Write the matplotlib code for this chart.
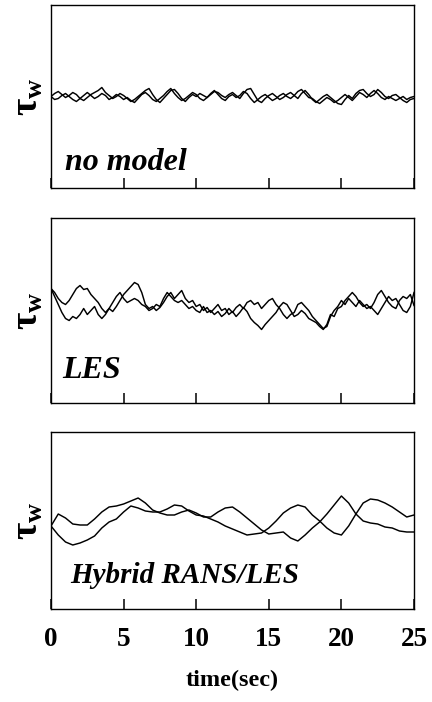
import numpy as np
import matplotlib
matplotlib.use("Agg")
import matplotlib.pyplot as plt

plt.rcParams['mathtext.fontset'] = 'custom'
plt.rcParams['mathtext.rm'] = 'Liberation Serif'
plt.rcParams['mathtext.bf'] = 'Liberation Serif:bold'
plt.rcParams['mathtext.it'] = 'Liberation Serif:italic'

# ---- data (tau_w, arbitrary units) ----
time_fine = np.arange(0, 25.001, 0.25)
time_coarse = np.arange(0, 25.001, 0.5)

nomodel_a = [0, 3, 5, 2, -1, 1, 4, 2, -2, -4,
             -1, 2, 4, 6, 9, 4, 1, -2, 0, 3,
             1, -2, -5, -3, 0, 3, 6, 8, 2, -3,
             -6, -2, 2, 6, 7, 3, -2, -5, -1, 2,
             0, 3, 1, -1, 2, 5, 4, 1, -1, 2,
             4, 1, -2, 3, 7, 8, 2, -4, -6, -2,
             1, 3, 0, -3, -1, 2, 4, 1, -2, 3,
             6, 2, -3, -6, -3, 0, 2, -1, -4, -7,
             -8, -3, 1, -2, 3, 6, 7, 3, 0, 2,
             7, 4, 0, -2, 1, 2, -1, -4, -6, -3,
             -2]
nomodel_b = [0, -3, -2, 1, 3, 0, -3, -5, -2, 1,
             4, 1, -2, 0, 3, 1, -3, -1, 2, 0,
             -3, -1, -4, -6, -2, 2, 4, 1, -3, -5,
             -2, 1, 5, 8, 3, -1, -4, -2, 1, 4,
             2, -2, -4, -1, 3, 6, 2, -2, -4, 0,
             2, -1, 1, 5, 3, -2, -6, -3, 0, 2,
             -1, -4, -2, 1, 3, 0, -2, 1, 5, 7,
             3, -1, -2, -5, -7, -4, -1, -3, -6, -4,
             -1, 2, -1, -4, 0, 4, 2, -1, 3, 6,
             3, -1, -3, 0, -2, -4, -2, 0, -3, -1,
             0]

les_a = [22, 18, 12, 8, 6, 10, 16, 22, 25, 21,
         22, 16, 12, 8, 2, -2, 2, -1, 4, 10,
         16, 20, 24, 28, 26, 18, 6, 2, 4, 0,
         3, 8, 14, 18, 12, 16, 20, 12, 8, 10,
         4, 6, 0, 3, -2, 2, 6, 0, 2, -4,
         -1, -6, -2, 3, -1, -8, -12, -15, -19, -14,
         -10, -6, -2, 4, 8, 6, 0, -6, -4, 0,
         -3, -8, -10, -12, -16, -19, -14, -4, -6, 2,
         4, 10, 14, 18, 14, 8, 4, 6, 2, 8,
         16, 20, 14, 8, 4, 2, 10, 14, 12, 16,
         5]
les_b = [22, 14, 6, -2, -8, -10, -6, -8, -4, 2,
         -4, 0, 4, -4, -8, -4, 2, 8, 14, 18,
         12, 8, 10, 12, 10, 6, 4, 0, 2, 6,
         4, 12, 18, 14, 10, 8, 10, 6, 2, 4,
         0, -2, 4, -2, 0, -4, -1, -6, -3, 2,
         -2, 3, 6, 2, 8, 10, 6, 8, 2, 6,
         10, 12, 6, 2, -4, -8, -4, -2, 6, 8,
         4, 0, -6, -10, -14, -18, -16, -6, 0, 4,
         10, 6, 12, 8, 4, 10, 6, 2, 4, 0,
         -4, 2, 8, 14, 10, 12, 6, 0, -2, 4,
         18]

hybrid_a = [-5.5, 6.5, 2.5, -3.5, -4.5, -4.5, 1.5, 8.5, 13.5, 14.5,
            16.5, 19.5, 22.5, 17.5, 10.5, 7.5, 5.5, 5.5, 8.5, 10.5,
            7.5, 3.5, 3.5, 8.5, 12.5, 13.5, 8.5, 2.5, -3.5, -9.5,
            -13.5, -12.5, -11.5, -17.5, -20.5, -14.5, -7.5, -1.5, 6.5, 15.5,
            24.5, 17.5, 6.5, -0.5, -2.5, -3.5, -6.5, -7.5, -10.5, -11.5,
            -11.5]
hybrid_b = [-5.5, -14.5, -21.5, -24.5, -22.5, -19.5, -15.5, -7.5, -1.5, 1.5,
            8.5, 14.5, 12.5, 9.5, 8.5, 8.5, 11.5, 15.5, 14.5, 9.5,
            5.5, 4.5, 1.5, -1.5, -5.5, -8.5, -11.5, -14.5, -13.5, -12.5,
            -7.5, -0.5, 7.5, 12.5, 15.5, 13.5, 5.5, -0.5, -7.5, -12.5,
            -14.5, -5.5, 6.5, 17.5, 21.5, 20.5, 17.5, 13.5, 8.5, 3.5,
            5.5]

panel_labels = ["no model", "LES", "Hybrid RANS/LES"]
xticks = [0, 5, 10, 15, 20, 25]
xtick_labels = ["0", "5", "10", "15", "20", "25"]

# ---- figure ----
W, H = 432, 702
fig = plt.figure(figsize=(W / 100, H / 100), dpi=100)

def frac_rect(left, top, right, bottom):
    return [left / W, 1 - bottom / H, (right - left) / W, (bottom - top) / H]

rects = [frac_rect(51, 5, 414, 188),
         frac_rect(51, 218, 414, 403),
         frac_rect(51, 432, 414, 609)]
halfh = [91.5, 92.5, 88.5]
series = [(time_fine, nomodel_a, nomodel_b),
          (time_fine, les_a, les_b),
          (time_coarse, hybrid_a, hybrid_b)]
label_pos = [(0.039, 0.098, 23), (0.030, 0.135, 23), (0.052, 0.147, 21)]

for i, (rect, (t, a, b), hh, (lx, ly, lfs), name) in enumerate(
        zip(rects, series, halfh, label_pos, panel_labels)):
    ax = fig.add_axes(rect)
    ax.plot(t, a, color='black', lw=1.05)
    ax.plot(t, b, color='black', lw=1.05)
    ax.set_xlim(0, 25)
    ax.set_ylim(-hh, hh)
    ax.set_yticks([])
    ax.set_xticks(xticks)
    ax.tick_params(axis='x', direction='in', length=7, width=1.1,
                   top=False, pad=13)
    for sp in ax.spines.values():
        sp.set_linewidth(1.0)
    ax.text(lx, ly, name, transform=ax.transAxes, fontsize=lfs,
            family='Liberation Serif', fontweight='bold', style='italic',
            va='baseline', ha='left')
    ax.set_ylabel(r'$\mathbf{\tau_w}$', fontsize=27, labelpad=4)
    if i < 2:
        ax.set_xticklabels([])
    else:
        ax.set_xticklabels(xtick_labels, fontsize=19.5,
                           family='Liberation Serif', fontweight='bold')
        ax.set_xlabel('time(sec)', fontsize=17.5, family='Liberation Serif',
                      fontweight='bold', labelpad=13)

fig.savefig('out.png', dpi=100)
